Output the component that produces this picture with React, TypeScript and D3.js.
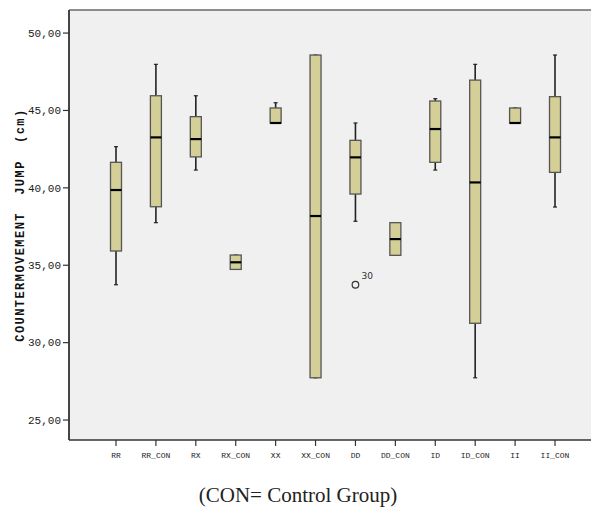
import React from "react";
import * as d3 from "d3";

const categories = ["RR", "RR_CON", "RX", "RX_CON", "XX", "XX_CON", "DD", "DD_CON", "ID", "ID_CON", "II", "II_CON"];
const whiskerLow = [33.74, 37.75, 41.15, 34.73, 44.19, 27.73, 37.84, 35.64, 41.15, 27.73, 44.19, 38.76];
const q1 = [35.92, 38.78, 42.0, 34.73, 44.19, 27.73, 39.6, 35.64, 41.65, 31.25, 44.19, 41.0];
const medians = [39.86, 43.26, 43.15, 35.19, 44.19, 38.18, 41.97, 36.69, 43.8, 40.35, 44.19, 43.26];
const q3 = [41.65, 45.95, 44.6, 35.66, 45.16, 48.58, 43.07, 37.75, 45.61, 46.96, 45.16, 45.89];
const whiskerHigh = [42.66, 47.98, 45.95, 35.66, 45.5, 48.58, 44.19, 37.75, 45.76, 47.98, 45.16, 48.58];
const outliers = [{ cat: "DD", value: 33.74, label: "30" }];
const yTicks = [25, 30, 35, 40, 45, 50];

export default function App() {
  const W = 591, H = 515;
  const left = 69, right = 591, top = 10, bottom = 440;
  const y = d3.scaleLinear().domain([23.71, 51.49]).range([bottom, top]);
  const x = d3.scalePoint<string>().domain(categories).range([116, 555]);
  const bw = 11;
  const fmt = (v: number) => v.toFixed(2).replace(".", ",");
  const yMid = (y(30) + y(45.1)) / 2;
  return (
    <svg width={W} height={H} style={{ position: "absolute", left: 0, top: 0 }}>
      <rect x={0} y={0} width={W} height={H} fill="#ffffff" />
      <rect x={left} y={top} width={right - left} height={bottom - top} fill="#f0f0f0" />
      <line x1={left} x2={right} y1={top} y2={top} stroke="#222" strokeWidth={1.2} />
      <line x1={left} x2={left} y1={top} y2={bottom} stroke="#444" strokeWidth={2} />
      <line x1={left} x2={right} y1={bottom} y2={bottom} stroke="#333" strokeWidth={1.5} />
      {yTicks.map((t) => (
        <g key={t}>
          <line x1={left - 6} x2={left} y1={y(t)} y2={y(t)} stroke="#333" strokeWidth={1.2} />
          <text x={left - 8} y={y(t)} dy="0.35em" textAnchor="end" fontFamily="Liberation Mono, DejaVu Sans Mono, monospace" fontSize={11} fill="#222">
            {fmt(t)}
          </text>
        </g>
      ))}
      {categories.map((c) => (
        <g key={c}>
          <line x1={x(c)} x2={x(c)} y1={bottom} y2={bottom + 6} stroke="#333" strokeWidth={1.2} />
          <text x={x(c)} y={bottom + 18} textAnchor="middle" fontFamily="Liberation Mono, DejaVu Sans Mono, monospace" fontSize={8} fill="#222">
            {c}
          </text>
        </g>
      ))}
      <text transform={`translate(24,${yMid}) rotate(-90)`} textAnchor="middle" fontFamily="Liberation Mono, Courier New, monospace" fontWeight="bold" fontSize={12} fill="#111" textLength={232} lengthAdjust="spacing">
        COUNTERMOVEMENT{"\u00a0\u00a0"}JUMP{"\u00a0\u00a0"}(cm)
      </text>
      {categories.map((c, i) => {
        const cx = x(c)!;
        return (
          <g key={c}>
            <line x1={cx} x2={cx} y1={y(whiskerHigh[i])} y2={y(q3[i])} stroke="#222" strokeWidth={1.6} />
            <line x1={cx} x2={cx} y1={y(q1[i])} y2={y(whiskerLow[i])} stroke="#222" strokeWidth={1.6} />
            <line x1={cx - 2} x2={cx + 2} y1={y(whiskerHigh[i])} y2={y(whiskerHigh[i])} stroke="#222" strokeWidth={1.2} />
            <line x1={cx - 2} x2={cx + 2} y1={y(whiskerLow[i])} y2={y(whiskerLow[i])} stroke="#222" strokeWidth={1.2} />
            <rect x={cx - bw / 2} y={y(q3[i])} width={bw} height={Math.max(0.5, y(q1[i]) - y(q3[i]))} fill="#d4cf97" stroke="#555" strokeWidth={1.3} />
            <line x1={cx - bw / 2} x2={cx + bw / 2} y1={y(medians[i])} y2={y(medians[i])} stroke="#000" strokeWidth={2.2} />
          </g>
        );
      })}
      {outliers.map((o) => (
        <g key={o.label}>
          <circle cx={x(o.cat)} cy={y(o.value)} r={3.3} fill="none" stroke="#333" strokeWidth={1.2} />
          <text x={x(o.cat)! + 6} y={y(o.value) - 6} fontFamily="DejaVu Sans, sans-serif" fontSize={9} fill="#333">
            {o.label}
          </text>
        </g>
      ))}
      <text x={298} y={502} textAnchor="middle" fontFamily="Liberation Serif, DejaVu Serif, serif" fontSize={21} fill="#222">
        (CON= Control Group)
      </text>
    </svg>
  );
}
